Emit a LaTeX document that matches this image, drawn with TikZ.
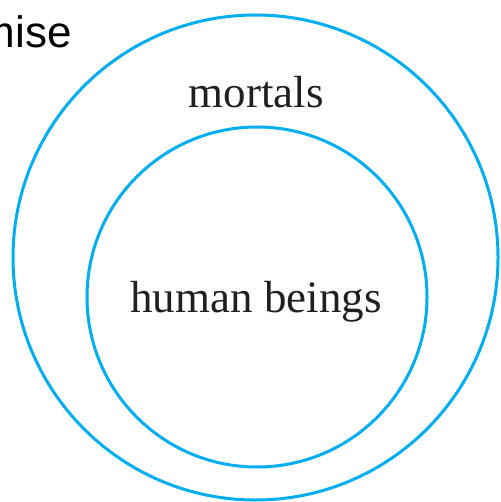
\documentclass[tikz,border=0pt]{standalone}
\usepackage{fontspec}
\setmainfont{Liberation Serif}
\newfontfamily\headfont{Liberation Sans}
\definecolor{setblue}{RGB}{0,174,239}
\definecolor{inkblack}{RGB}{35,31,32}

\begin{document}
\begin{tikzpicture}[
    x=1pt, y=-1pt,
    setline/.style={draw=setblue, line width=3pt},
    setlabel/.style={inner sep=0pt, anchor=base, text=inkblack, font=\fontsize{45}{50}\selectfont}
]

    % Frame
    \useasboundingbox (0,0) rectangle (500,502);
    \clip (0,0) rectangle (500,502);

    % Centres
    \coordinate (outer_c) at (255.5, 257.5);
    \coordinate (inner_c) at (257, 297);

    % Sets
    \draw[setline] (outer_c) circle[radius=242.5];
    \draw[setline] (inner_c) circle[radius=170];

    % Labels
    \node[setlabel] (mortals) at (256, 108) {mortals};
    \node[setlabel] (humans) at (256, 312) {human beings};

    % Heading (cut off at the left edge)
    \node[inner sep=0pt, anchor=base east, font=\headfont\fontsize{44}{50}\selectfont] (premise) at (72, 48) {Premise};

\end{tikzpicture}
\end{document}
